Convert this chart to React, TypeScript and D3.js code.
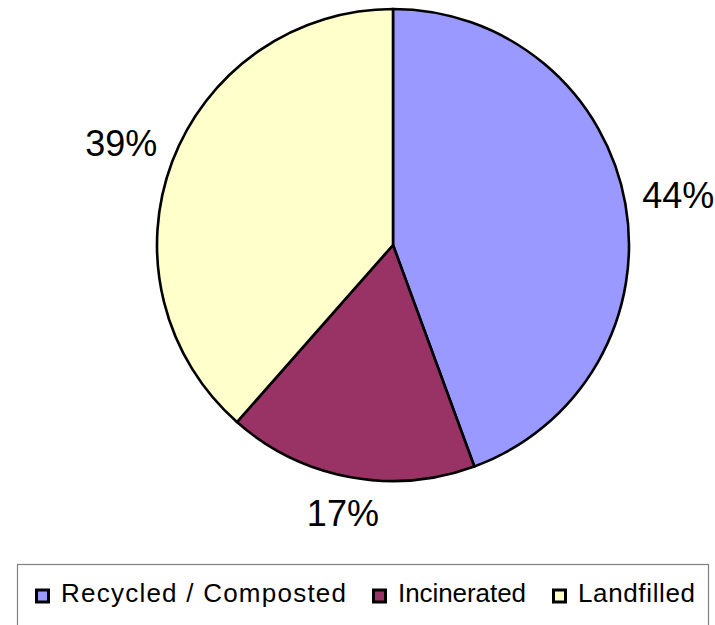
import React, { useEffect, useRef } from 'react';
import * as d3 from 'd3';

// waste management shares (percent)
const categories = ['Recycled / Composted', 'Incinerated', 'Landfilled'];
const shares = [44.4, 17.1, 38.5];
const colors = ['#9999FF', '#993366', '#FFFFCC'];

const WIDTH = 715;
const HEIGHT = 625;
// legend label widths as rendered in the original (its text is a bit letter-spaced)
const legendTextLength = [285, 128, 117];

const App: React.FC = () => {
  const svgRef = useRef<SVGSVGElement>(null);

  useEffect(() => {
    if (!svgRef.current) return;
    const svg = d3.select(svgRef.current);
    svg.selectAll('*').remove();

    const cx = 393;
    const cy = 245;
    const radius = 236;
    const labelGap = 16;

    const data = categories.map((name, i) => ({ name, value: shares[i], color: colors[i] }));

    const pie = d3.pie<any>()
      .sort(null)
      .value(d => d.value)
      .startAngle(0)
      .endAngle(2 * Math.PI);

    const arc = d3.arc<any>().innerRadius(0).outerRadius(radius);
    const arcs = pie(data);

    const g = svg.append('g').attr('transform', `translate(${cx},${cy})`);

    g.selectAll('path')
      .data(arcs)
      .join('path')
      .attr('d', arc)
      .attr('fill', d => d.data.color)
      .attr('stroke', '#000')
      .attr('stroke-width', 2.6)
      .attr('stroke-linejoin', 'round');

    // percentage labels just outside the pie, pushed out by their box size
    const labels = g.selectAll('text.pct')
      .data(arcs)
      .join('text')
      .attr('class', 'pct')
      .attr('font-family', '"Liberation Sans", Arial, sans-serif')
      .attr('font-size', 36)
      .attr('fill', '#000')
      .attr('text-anchor', 'middle')
      .text(d => `${Math.round(d.data.value)}%`);

    labels.each(function (d) {
      const el = this as SVGTextElement;
      const w = el.getComputedTextLength();
      const h = 27;
      const mid = (d.startAngle + d.endAngle) / 2;
      const dx = Math.sin(mid);
      const dy = -Math.cos(mid);
      const extent = Math.abs(dx) * w / 2 + Math.abs(dy) * h / 2;
      const r = radius + labelGap + extent;
      d3.select(el)
        .attr('x', dx * r)
        .attr('y', dy * r + h / 2);
    });

    // legend
    const boxX = 17.5;
    const boxY = 564.5;
    const boxW = 691;
    svg.append('rect')
      .attr('x', boxX)
      .attr('y', boxY)
      .attr('width', boxW)
      .attr('height', 80)
      .attr('fill', '#fff')
      .attr('stroke', '#808080')
      .attr('stroke-width', 1.2);

    const legend = svg.append('g');
    const items = legend.selectAll('g')
      .data(data)
      .join('g');

    items.append('rect')
      .attr('x', 1.5)
      .attr('y', -6)
      .attr('width', 12)
      .attr('height', 12)
      .attr('fill', d => d.color)
      .attr('stroke', '#000')
      .attr('stroke-width', 3);

    items.append('text')
      .attr('x', 26)
      .attr('y', 6)
      .attr('font-family', '"Liberation Sans", Arial, sans-serif')
      .attr('font-size', 26)
      .attr('fill', '#000')
      .attr('textLength', (_d, i) => legendTextLength[i])
      .attr('lengthAdjust', 'spacing')
      .text(d => d.name);

    const markerToText = 26;
    const itemGap = 26;
    const widths = legendTextLength;
    const total = d3.sum(widths, w => w + markerToText) + itemGap * (widths.length - 1);
    let x = boxX + boxW / 2 - total / 2 + 2;
    items.attr('transform', (_d, i) => {
      const t = `translate(${x},${596})`;
      x += widths[i] + markerToText + itemGap;
      return t;
    });
  }, []);

  return (
    <svg
      ref={svgRef}
      width={WIDTH}
      height={HEIGHT}
      style={{ position: 'absolute', left: 0, top: 0, background: '#fff' }}
    />
  );
};

export default App;
